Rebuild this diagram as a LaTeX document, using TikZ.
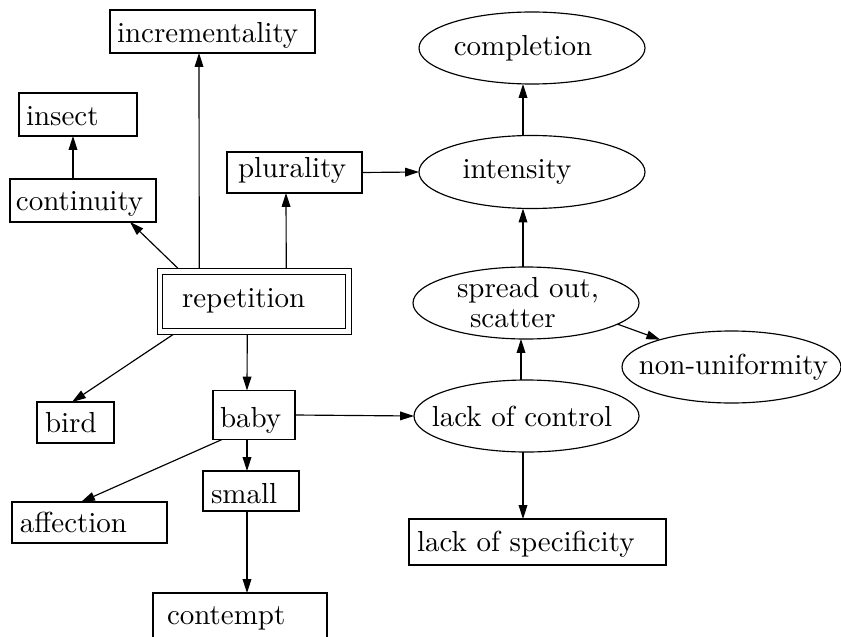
\documentclass[tikz,border=0pt]{standalone}
\usepackage{tikz}
\usetikzlibrary{arrows.meta,shapes.geometric}
\newcommand{\pxu}{0.345pt}
\tikzstyle{concept}=[draw,rectangle,inner ysep=0pt,outer sep=0pt,align=left]
\tikzstyle{sense}=[draw,ellipse,inner sep=0pt,outer sep=0pt]
\tikzstyle{edge}=[draw,-{Triangle[length=4.8pt,width=3pt]}]

\begin{document}
\begin{tikzpicture}[x=\pxu,y=-\pxu]
    \useasboundingbox (0,0) rectangle (841,636);
    \clip (0,0) rectangle (841,636);
    % First the boxed meanings: name, centre, width, height, left pad, depth
    \foreach \name/\x/\y/\w/\h/\pad/\dep/\txt in {incr/212.5/31.5/205/43/7/10/incrementality, insect/78/114.5/118/43/7/11/insect, contin/83/200.5/146/43/6/12/continuity, plur/294.5/172.5/135/41/11/16/plurality, bird/75.5/422.5/77/41/8/11/bird, baby/254/415/82/49/7/12/baby, small/251/491/96/40/8/8/small, affect/89.5/522.5/155/41/8/11/affection, contempt/240/616/174/46/14/15/contempt, spec/537.5/542/257/46/8/14/lack of specificity}
        \node[concept, minimum width=\w*\pxu, minimum height=\h*\pxu, text width=(\w-2*\pad)*\pxu, inner xsep=\pad*\pxu, text height=(\h-\dep)*\pxu, text depth=\dep*\pxu] (\name) at (\x,\y) {\txt};
    \node[concept, double, double distance=1.4pt, outer sep=1pt, minimum width=188.5*\pxu, minimum height=60*\pxu, text width=144.5*\pxu, inner xsep=22*\pxu, text height=35.5*\pxu, text depth=24.5*\pxu] (rep) at (254.25,301.5) {repetition};

    % Then the oval meanings
    \foreach \name/\x/\y/\w/\h/\dx/\txt in {compl/532/48/226/72/-9/completion, intens/532/172/226/73/-15/intensity, spread/526/303/226/72/2/{spread out,\\[-1.6pt]\hspace*{4.5pt}scatter}, nonunif/731.5/367/219/72/2/non-uniformity, lackctl/526.5/416/225/72/-4.5/lack of control}
        \node[sense, minimum width=\w*\pxu, minimum height=\h*\pxu, label={[align=left,xshift=\dx*\pxu]center:\txt}] (\name) at (\x,\y) {};

    % Connect meanings with arrows
    \foreach \src/\sx/\dst/\dx in {contin.north/-10/insect.south/-5, rep.north/-76/contin.south/47, rep.north/-55/incr.south/-13.5, rep.north/32/plur.south/-8.5, plur.east/0/intens.west/0, intens.north/-9/compl.south/-9, spread.north/-3/intens.south/-9, spread.-13/0/nonunif.159/0, lackctl.north/-5.5/spread.south/-5, lackctl.south/-3.5/spec.north/-14.5, rep.south/-81/bird.north/-3.5, rep.south/-7/baby.north/-7, baby.east/0/lackctl.west/0, baby.south/-32/affect.north/-8.5, baby.south/-7/small.north/-4, small.south/-4/contempt.north/7}
        \path[edge] ([xshift=\sx*\pxu]\src) -- ([xshift=\dx*\pxu]\dst);
\end{tikzpicture}
\end{document}
